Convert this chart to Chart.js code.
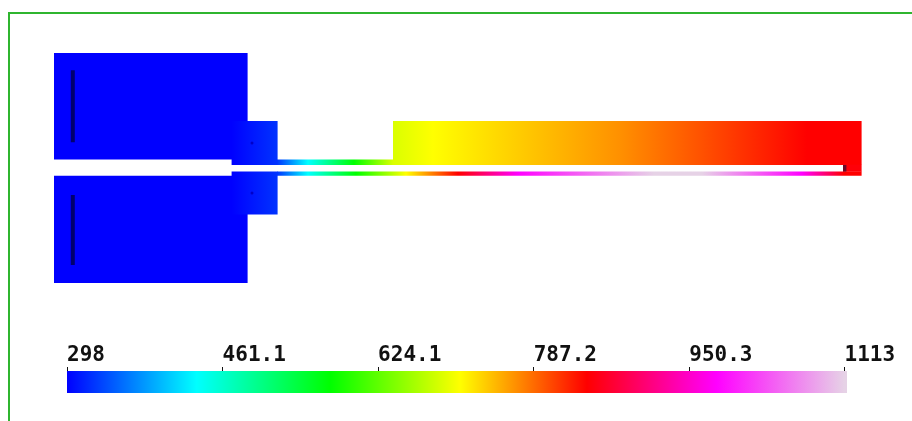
<!DOCTYPE html>
<html>
<head>
<meta charset="utf-8">
<script src="https://cdn.jsdelivr.net/npm/chart.js@4"></script>
<style>
    html, body { margin: 0; background: #fff; overflow: hidden; }
    #frame { position: absolute; left: 8px; top: 12px; width: 904px; height: 409px; border-left: 2px solid #2fb52f; border-top: 2px solid #2fb52f; box-sizing: border-box; }
    canvas { position: absolute; left: 0; }
    #fieldChart { top: 0; }
    #barChart { top: 325px; }
</style>
</head>
<body>
<div id="frame"></div>
<canvas id="fieldChart" width="912" height="325"></canvas>
<canvas id="barChart" width="912" height="96"></canvas>
<script>
// Colour map: temperature -> colour
const tempStops = [298, 434, 574, 710, 843, 979, 1113];
const tempColors = [[0, 0, 255], [0, 255, 255], [0, 255, 0], [255, 255, 0], [255, 0, 0], [255, 0, 255], [230, 210, 230]];

// Legend bar
const tickValues = [298, 461.1, 624.1, 787.2, 950.3, 1113];
const barT = [298, 1115.6];
const barLevel = [0, 1];

// Geometry extents, x along the part, y from the centre line
const coldTopX = [0, 48.4];
const coldTopY = [2.2, 28.8];
const coldBottomX = [0, 48.4];
const coldBottomY = [-28.7, -1.9];
const stepTopX = [44.4, 55.9];
const stepTopY = [0.8, 11.8];
const stepBottomX = [44.4, 55.9];
const stepBottomY = [-11.55, -0.8];
const thinTopX = [55.75, 85];
const thinTopY = [0.8, 2.2];
const thinBottomX = [55.75, 201.9];
const thinBottomY = [-1.9, -0.8];
const hotX = [84.75, 201.9];
const hotY = [0.8, 11.8];
const tipX = [197.25, 201.9];
const tipY = [-0.9, 0.9];
const slotEndX = [197.25, 198.1];
const slotEndY = [-0.8, 0.8];
const markTopX = [4.2, 5.2];
const markTopY = [6.5, 24.5];
const markBottomX = [4.2, 5.2];
const markBottomY = [-24.2, -6.7];
const spotX = [49.5, 49.5];
const spotY = [6.3, -6.2];

// Temperature along x for each part
const stepProfileX = [44.4, 55.9];
const stepProfileT = [298, 325];
const thinTopProfileX = [55.75, 63.5, 75, 84.75];
const thinTopProfileT = [325, 434, 574, 690];
const thinBottomProfileX = [55.75, 63.5, 75.5, 88, 101, 116, 150, 162, 187, 197.5, 201.9];
const thinBottomProfileT = [325, 434, 574, 710, 843, 979, 1113, 1113, 979, 843, 843];
const hotProfileX = [84.75, 94.75, 141.5, 188.25, 201.9];
const hotProfileT = [690, 710, 768, 843, 843];

function tempColor(t) {
    let i = 0;
    while (i < tempStops.length - 2 && t > tempStops[i + 1]) i++;
    const f = (t - tempStops[i]) / (tempStops[i + 1] - tempStops[i]);
    const c = tempColors[i].map((v, k) => Math.round(v + (tempColors[i + 1][k] - v) * f));
    return `rgb(${c[0]}, ${c[1]}, ${c[2]})`;
}

// Horizontal gradient placed through the chart's x scale
function profileFill(xs, ts, scaleId) {
    return function (context) {
        const chart = context.chart;
        const scale = chart.scales[scaleId];
        const x0 = scale.getPixelForValue(xs[0]);
        const x1 = scale.getPixelForValue(xs[xs.length - 1]);
        // the scale is not placed yet on the first pass
        if (!isFinite(x0) || !isFinite(x1)) return tempColor(ts[0]);
        const gradient = chart.ctx.createLinearGradient(x0, 0, x1, 0);
        xs.forEach((x, i) => {
            gradient.addColorStop((x - xs[0]) / (xs[xs.length - 1] - xs[0]), tempColor(ts[i]));
        });
        return gradient;
    };
}

function box(xr, yr, color) {
    return {
        data: [
            { x: xr[0], y: yr[0] },
            { x: xr[0], y: yr[1] },
            { x: xr[1], y: yr[1] },
            { x: xr[1], y: yr[0] },
            { x: xr[0], y: yr[0] }
        ],
        showLine: true,
        fill: 'shape',
        backgroundColor: color,
        borderWidth: 0,
        pointRadius: 0,
        tension: 0
    };
}

// Later entries paint over earlier ones, Chart.js draws the first dataset last
const fieldDatasets = [
    box(coldTopX, coldTopY, '#0000ff'),
    box(coldBottomX, coldBottomY, '#0000ff'),
    box(thinTopX, thinTopY, profileFill(thinTopProfileX, thinTopProfileT, 'x')),
    box(thinBottomX, thinBottomY, profileFill(thinBottomProfileX, thinBottomProfileT, 'x')),
    box(stepTopX, stepTopY, profileFill(stepProfileX, stepProfileT, 'x')),
    box(stepBottomX, stepBottomY, profileFill(stepProfileX, stepProfileT, 'x')),
    box(hotX, hotY, profileFill(hotProfileX, hotProfileT, 'x')),
    box(tipX, tipY, '#ff0008'),
    box(slotEndX, slotEndY, '#6a0a2a'),
    box(markTopX, markTopY, '#00006e'),
    box(markBottomX, markBottomY, '#00006e'),
    {
        data: spotX.map((x, i) => ({ x: x, y: spotY[i] })),
        showLine: false,
        pointRadius: 1.5,
        pointBorderWidth: 0,
        pointBackgroundColor: '#0000c8'
    }
].reverse();

new Chart(document.getElementById('fieldChart'), {
    type: 'scatter',
    data: { datasets: fieldDatasets },
    options: {
        responsive: false,
        animation: false,
        events: [],
        layout: { padding: 0, autoPadding: false },
        plugins: { legend: { display: false }, tooltip: { enabled: false } },
        scales: {
            x: { type: 'linear', display: false, min: -13.5, max: 214.5 },
            y: { type: 'linear', display: false, min: -39.19, max: 42.06 }
        }
    }
});

new Chart(document.getElementById('barChart'), {
    type: 'scatter',
    data: { datasets: [box(barT, barLevel, profileFill(tempStops, tempStops, 'x'))] },
    options: {
        responsive: false,
        animation: false,
        events: [],
        layout: { padding: { left: 67, right: 65, top: 6, bottom: 28 }, autoPadding: false },
        plugins: { legend: { display: false }, tooltip: { enabled: false } },
        scales: {
            x: {
                type: 'linear',
                position: 'top',
                min: barT[0],
                max: barT[1],
                afterBuildTicks: function (axis) {
                    axis.ticks = tickValues.map(v => ({ value: v }));
                },
                // room above the labels, the axis clips to its own box
                afterFit: function (axis) {
                    axis.height = 40;
                },
                border: { display: false },
                grid: { drawOnChartArea: false, drawTicks: true, tickLength: 4, tickColor: '#111', lineWidth: 1 },
                ticks: {
                    align: 'start',
                    maxRotation: 0,
                    autoSkip: false,
                    padding: -9.5,
                    color: '#111',
                    font: { family: '"DejaVu Sans Mono"', size: 21, weight: 'bold', lineHeight: 2 },
                    callback: function (value) { return String(value); }
                }
            },
            y: { type: 'linear', display: false, min: 0, max: 1 }
        }
    }
});
</script>
</body>
</html>
